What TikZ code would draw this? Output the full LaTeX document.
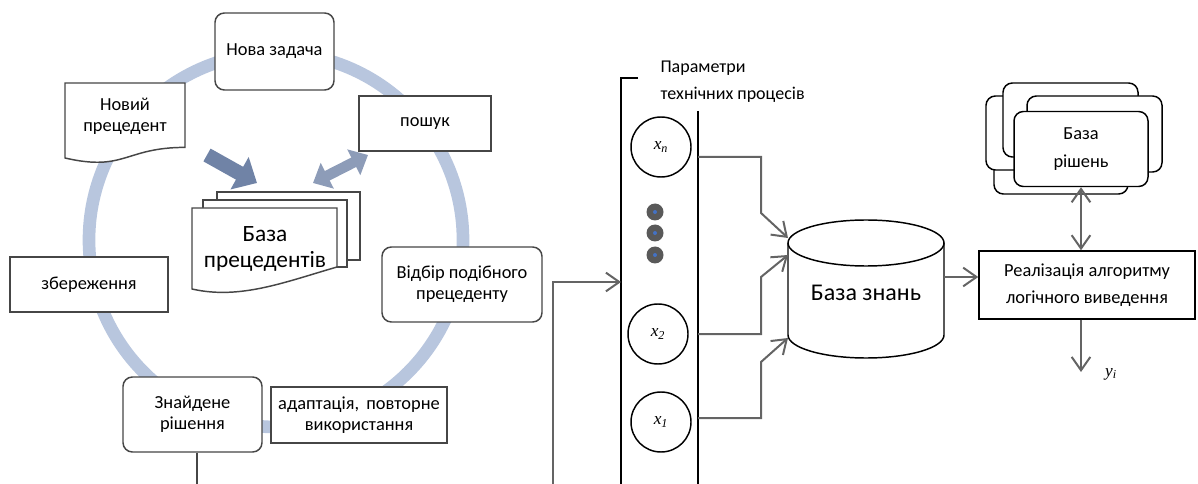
\documentclass[tikz,border=0pt]{standalone}
\usepackage{fontspec}
\setmainfont{Carlito}
\newfontfamily\tnr{Liberation Serif}
\usetikzlibrary{arrows.meta}

\tikzset{every picture/.style={line width=0.75pt}}
\tikzset{
	ring/.style={draw={rgb, 255:red, 184; green, 198; blue, 222 }, line width=9.5pt},
	leftline/.style={draw={rgb, 255:red, 70; green, 70; blue, 70 }, line width=1.1pt},
	sbox/.style={leftline, fill=white, align=center, inner sep=0pt, font=\fontsize{13.8}{15.5}\selectfont},
	rbox/.style={sbox, rounded corners=7pt},
	bigtext/.style={align=center, inner sep=0pt, font=\fontsize{17.5}{19}\selectfont},
	blockdark/.style={draw={rgb, 255:red, 112; green, 131; blue, 166 }, line width=11pt, -{Triangle[length=15pt, width=27pt]}},
	blocklight/.style={draw={rgb, 255:red, 141; green, 156; blue, 184 }, line width=8pt, {Triangle[length=12pt, width=21pt]}-{Triangle[length=12pt, width=21pt]}},
	shapeline/.style={draw=black, line width=1.1pt},
	plainbox/.style={shapeline, fill=white, align=center, inner sep=0pt, font=\fontsize{13.8}{20.5}\selectfont},
	solback/.style={shapeline, fill=white, rounded corners=7pt},
	var/.style={shapeline, circle, minimum size=45pt, inner sep=0pt, font=\tnr\itshape\fontsize{13}{13}\selectfont},
	conn/.style={draw={rgb, 255:red, 100; green, 100; blue, 100 }, line width=1.5pt, -{Straight Barb[length=10pt, width=14pt]}},
	dconn/.style={conn, {Straight Barb[length=10pt, width=14pt]}-{Straight Barb[length=10pt, width=14pt]}}
}

\begin{document}
\begin{tikzpicture}[x=0.75pt,y=0.75pt,yscale=-1,xscale=1]
	\useasboundingbox (0,0) rectangle (1198,484);

	%Shape: Circle (cycle of cases)
	\draw [ring] (276,240) circle (187);

	%Shape: Document
	\draw [leftline, fill=white] (65,83) -- (185,83) -- (185,147.4) .. controls (125,147.4) and (125,171.9) .. (65,158) -- cycle;
	%Shape: Multidocument
	\draw [leftline, fill=white] (217,192) rectangle (360,260);
	\draw [leftline, fill=white] (203,200) rectangle (347,267);
	\draw [leftline, fill=white] (192,208) -- (337,208) -- (337,267) .. controls (285,282) and (240,300) .. (192,289) -- cycle;

	% Text Node
	\node [rbox, minimum width=89.25pt, minimum height=57.75pt] (task) at (274.5,51.5) {Нова задача};
	\node [sbox, minimum width=99pt, minimum height=41.25pt] (search) at (425,123.5) {пошук};
	\node [rbox, minimum width=120pt, minimum height=56.25pt] (select) at (462,284.5) {Відбір подібного\\прецеденту};
	\node [sbox, minimum width=118.5pt, minimum height=41.25pt] (save) at (89,284.5) {збереження};
	\node [rbox, minimum width=104.25pt, minimum height=56.25pt] (found) at (192.5,414.5) {Знайдене\\рішення};
	\node [sbox, minimum width=132pt, minimum height=42pt] (adapt) at (359,415) {адаптація,\, повторне\\використання};
	\node [align=center, inner sep=0pt, font=\fontsize{13.8}{15.5}\selectfont] (newprec) at (125,116) {Новий\\прецедент};
	\node [bigtext] (casebase) at (265,249) {База\\прецедентів};

	%Block arrows
	\coordinate (arrA) at (207,155);
	\coordinate (arrB) at (257,183);
	\draw [blockdark] (arrA) -- (arrB);
	\coordinate (arrC) at (313,183);
	\coordinate (arrD) at (368,155);
	\draw [blocklight] (arrC) -- (arrD);

	\coordinate (fEnd) at (197,484);
	\draw [leftline] (found.south -| fEnd) -- (fEnd);

	%Column of parameters
	\draw [shapeline] (638,78) -- (621,78) -- (621,484);
	\draw [shapeline] (698,111) -- (698,484);
	\begin{scope}
		\clip (640,40) rectangle (900,102);
		\node [anchor=west, align=left, inner sep=0pt, font=\fontsize{13.5}{20}\selectfont] (params) at (660,81.5) {Параметри\\технічних процесів};
	\end{scope}
	\coordinate (inStart) at (553,484);
	\coordinate (colIn) at (621,282);
	\draw [conn] (inStart) |- (colIn);

	\node [var] (xn) at (661,147) {x\textsubscript{n}};
	\node [var] (x2) at (658,334) {x\textsubscript{2}};
	\node [var] (x1) at (661,422) {x\textsubscript{1}};
	\foreach \y in {212,233,255} {
		\fill [fill={rgb, 255:red, 89; green, 89; blue, 89 }] (655,\y) circle (8.5);
		\fill [fill={rgb, 255:red, 68; green, 114; blue, 196 }] (655,\y) circle (2);
	}

	%Shape: Can
	\draw [shapeline, fill=white] (788,243) -- (788,335) arc [start angle=180, end angle=0, x radius=78, y radius=23] -- (944,243);
	\draw [shapeline] (866,243) ellipse [x radius=78, y radius=23];
	\node [bigtext, font=\fontsize{18}{20}\selectfont] (kb) at (866,293) {База знань};

	\coordinate (outN) at (698,157);
	\coordinate (out2) at (698,334);
	\coordinate (out1) at (698,418);
	\coordinate (kbIn3) at (788,238);
	\coordinate (kbIn2) at (788,255);
	\coordinate (kbIn1) at (788,338);
	\draw [conn] (outN) -| (761,213) -- (kbIn3);
	\draw [conn] (out2) -| (761,277) -- (kbIn2);
	\draw [conn] (out1) -| (761,362) -- (kbIn1);

	% Text Node
	\node [plainbox, minimum width=162pt, minimum height=51pt] (algo) at (1087,285) {Реалізація алгоритму\\логічного виведення};
	\coordinate (kbOut) at (944,277);
	\draw [conn] (kbOut) -- (kbOut -| algo.west);

	%Shape: stack of solutions
	\draw [solback] (994,120) rectangle (1128,194);
	\draw [solback] (986,96) rectangle (1121,170);
	\draw [solback] (1003,83) rectangle (1138,157);
	\draw [solback] (1027,96) rectangle (1162,172);
	\node [plainbox, rounded corners=7pt, minimum width=100.5pt, minimum height=56.25pt] (sol) at (1081,149) {База\\рішень};

	\draw [dconn] (sol.south) -- (sol.south |- algo.north);
	\coordinate (yEnd) at (1081,372);
	\draw [conn] (sol.south |- algo.south) -- (yEnd);
	\node [font=\tnr\itshape\fontsize{13}{13}\selectfont] (yi) at (1111,374) {y\textsubscript{i}};

\end{tikzpicture}
\end{document}
